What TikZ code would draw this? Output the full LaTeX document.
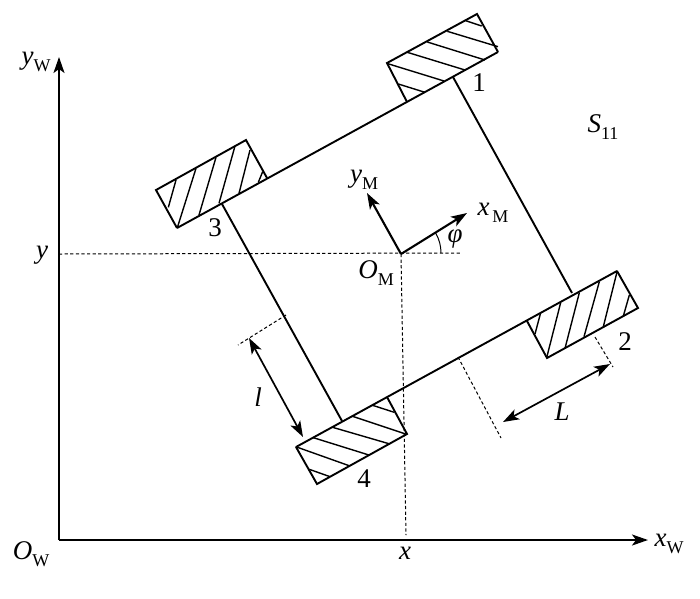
\documentclass[tikz,border=0pt]{standalone}
\usepackage{fontspec}
\setmainfont{Liberation Serif}
\usetikzlibrary{arrows.meta}
\newcommand{\sublab}[2]{\textit{#1}\raisebox{-0.26em}{\fontsize{18}{18}\selectfont #2}}
\tikzset{
  body/.style={line width=1.9pt,line join=miter},
  hatch/.style={line width=1.4pt},
  axis/.style={line width=2.1pt,-{Stealth[length=16pt,width=11pt,inset=4pt]}},
  dim/.style={line width=1.7pt,{Stealth[length=16pt,width=11pt,inset=4pt]}-{Stealth[length=16pt,width=11pt,inset=4pt]}},
  guide/.style={line width=1pt,dash pattern=on 3.2pt off 2.4pt},
  lab/.style={inner sep=0pt,font=\fontsize{27}{27}\selectfont},
  num/.style={inner sep=0pt,font=\fontsize{27}{27}\selectfont}
}
\begin{document}
\begin{tikzpicture}[x=1pt,y=-1pt]
\useasboundingbox (0,0) rectangle (700,598);
% key points
\coordinate (OW) at (59,540);
\coordinate (YW) at (59,57);
\coordinate (XW) at (648,540);
\coordinate (OM) at (401,254);
\coordinate (XM) at (467,213);
\coordinate (YM) at (367,193);
\coordinate (A3) at (177,228);
\coordinate (B1) at (498,52);
\coordinate (A4) at (296,447);
\coordinate (B2) at (617,271);
% axes
\draw[axis] (OW) -- (YW);
\draw[axis] (OW) -- (XW);
% guides
\coordinate (yG) at (59,254);
\coordinate (yE) at (460,253);
\coordinate (xG) at (406,535);
\draw[guide] (yG) -- (yE);
\draw[guide] (OM) -- (xG);
\coordinate (L1a) at (458,357); \coordinate (L1b) at (501,438);
\coordinate (L2a) at (595,337); \coordinate (L2b) at (613,367);
\coordinate (l1a) at (286,315); \coordinate (l1b) at (238,345);
\draw[guide] (L1a) -- (L1b);
\draw[guide] (L2a) -- (L2b);
\draw[guide] (l1a) -- (l1b);
% chassis
\draw[body] (A3) -- (B1);
\draw[body] (A4) -- (B2);
\coordinate (R1) at (453,77); \coordinate (R2) at (572,293);
\coordinate (S1) at (222,204); \coordinate (S2) at (342,421);
\draw[body] (R1) -- (R2);
\draw[body] (S1) -- (S2);
% wheels
\draw[body] (407,102) -- (387,63) -- (477,14) -- (498,52);
\draw[body] (267,178) -- (246,140) -- (156,190) -- (177,228);
\draw[body] (527,321) -- (547,358) -- (638,308) -- (617,271);
\draw[body] (296,447) -- (317,484) -- (407,434) -- (387,397);
% hatching wheel 1
\foreach \a/\b/\c/\d in {85/252/165/277,50/190/222/243,112/157/285/210,172/126/345/180,232/94/384/140,287/62/335/78}
  \draw[hatch] ({370+\a/3},{\b/3}) -- ({370+\c/3},{\d/3});
% hatching wheel 3
\foreach \a/\b/\c/\d in {108/150/85/232,168/115/112/293,228/82/177/255,285/48/237/220,330/60/297/190,368/125/355/157}
  \draw[hatch] ({140+\a/3},{130+\b/3}) -- ({140+\c/3},{130+\d/3});
% hatching wheel 2
\foreach \a/\b/\c/\d in {92/158/75/222,152/128/110/293,208/98/165/265,268/65/222/230,322/32/280/200,358/105/340/168}
  \draw[hatch] ({510+\a/3},{260+\b/3}) -- ({510+\c/3},{260+\d/3});
% hatching wheel 4
\foreach \a/\b/\c/\d in {88/268/150/290,47/200/210/258,100/173/270/226,158/142/330/192,215/108/380/163,275/75/343/97}
  \draw[hatch] ({280+\a/3},{380+\b/3}) -- ({280+\c/3},{380+\d/3});
% moving frame
\draw[axis] (OM) -- (XM);
\draw[axis] (OM) -- (YM);
\draw[line width=1pt] (441,253) arc[start angle=0,end angle=-30,radius=40];
% dimensions
\coordinate (La) at (503,422); \coordinate (Lb) at (610,364);
\coordinate (la) at (249,338); \coordinate (lb) at (303,437);
\draw[dim] (La) -- (Lb);
\draw[dim] (la) -- (lb);
% labels
\node[lab] (tYW) at (36,62) {\sublab{y}{W}};
\node[lab] (tXW) at (669,544) {\sublab{x}{W}};
\node[lab] (tOW) at (31,554) {\sublab{O}{W}};
\node[lab] (tOM) at (376,273) {\sublab{O}{M}};
\node[lab] (tYM) at (364,180) {\sublab{y}{M}};
\node[lab] (tXM) at (493,213) {\sublab{x}{\,M}};
\node[lab] (tPhi) at (455,239) {\textit{φ}};
\node[lab] (ty) at (42,255) {\textit{y}};
\node[lab] (tx) at (405,553) {\textit{x}};
\node[lab] (tl) at (258,397) {\textit{l}};
\node[lab] (tL) at (562,412) {\textit{L}};
\node[lab] (tS) at (603,127) {\sublab{S}{11}};
\node[num] (n1) at (479,83) {1};
\node[num] (n2) at (625,342) {2};
\node[num] (n3) at (215,228) {3};
\node[num] (n4) at (364,479) {4};
\end{tikzpicture}
\end{document}
